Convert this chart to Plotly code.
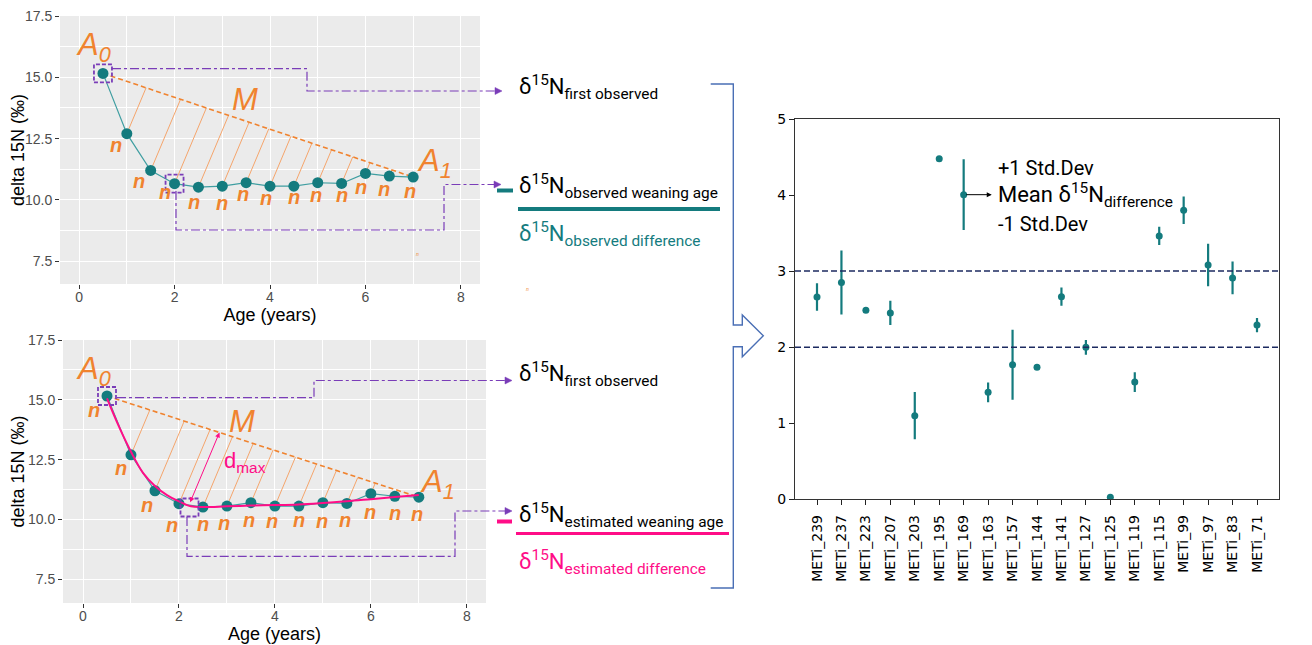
import plotly.graph_objects as go

# ---------------- data ----------------
ages = [0.5, 1.0, 1.5, 2.0, 2.5, 3.0, 3.5, 4.0, 4.5, 5.0, 5.5, 6.0, 6.5, 7.0]
d15n = [15.16, 12.70, 11.20, 10.66, 10.52, 10.56, 10.70, 10.56, 10.56, 10.70, 10.67, 11.08, 10.97, 10.93]
obs_weaning_index = 3

est_age = [0.5, 0.75, 1.0, 1.25, 1.5, 1.75, 2.0, 2.25, 2.5, 3.0, 3.5, 4.0, 4.5, 5.0, 5.5, 6.0, 6.5, 7.0]
est_d15n = [15.06, 13.88, 12.83, 11.95, 11.40, 11.02, 10.76, 10.55, 10.52, 10.55, 10.58, 10.60, 10.63, 10.69, 10.76, 10.85, 10.94, 11.02]
est_weaning_age = 2.22
est_weaning_value = 10.50

samples = ["METi_239", "METi_237", "METi_223", "METi_207", "METi_203", "METi_195", "METi_169",
           "METi_163", "METi_157", "METi_144", "METi_141", "METi_127", "METi_125", "METi_119",
           "METi_115", "METi_99", "METi_97", "METi_83", "METi_71"]
diff_mean = [2.66, 2.85, 2.485, 2.45, 1.10, 4.478, 4.005, 1.407, 1.77, 1.735, 2.664, 1.998, 0.026,
             1.542, 3.462, 3.80, 3.08, 2.91, 2.29]
diff_sd = [0.18, 0.42, 0.0, 0.16, 0.31, 0.0, 0.465, 0.13, 0.46, 0.0, 0.12, 0.097, 0.03,
           0.13, 0.12, 0.18, 0.28, 0.215, 0.095]
threshold_lines = [2.0, 3.0]

# ---------------- styles ----------------
W, H = 1312, 645          # target picture
OFF = 8                   # browser body margin
FW, FH = W - OFF, H - OFF  # figure size
TEAL = "#147b7e"
TEAL_LINE = "#3f9ea1"
ORANGE = "#f0832f"
ORANGE_LIGHT = "#f5a56c"
PURPLE = "#7a3db8"
PINK = "#ff0d87"
BLUE = "#4a6fb5"
NAVY = "#1c2a60"
ROBOTO = "Roboto"
ARIAL = "Liberation Sans, Arial"
DEJAVU = "DejaVu Sans"


def PX(x):
    return (x - OFF) / FW


def PY(y):
    return 1 - (y - OFF) / FH


TL = dict(x0=60, x1=480, y0=16, y1=284, xr=[-0.4, 8.4], yr=[6.57, 17.5])
BL = dict(x0=63, x1=486, y0=340, y1=603, xr=[-0.417, 8.4], yr=[6.51, 17.5])
RP = dict(x0=795, x1=1279, y0=119, y1=499.3, xr=[-0.9, 18.9], yr=[0, 5])

fig = go.Figure()


def scales(p):
    sx = (p["x1"] - p["x0"]) / (p["xr"][1] - p["xr"][0])
    sy = (p["y1"] - p["y0"]) / (p["yr"][1] - p["yr"][0])
    return sx, sy


def hatches(p, xs, ys, x0, y0, x1, y1):
    sx, sy = scales(p)
    k = 0.42 * sy / sx  # data dx per data dy
    m = (y1 - y0) / (x1 - x0)
    hx, hy = [], []
    for x, y in zip(xs, ys):
        cy = y0 + m * (x - x0)
        t = (cy - y) / (1 - k * m)
        hx += [x, x + k * t, None]
        hy += [y, y + t, None]
    return hx, hy, k, m


def interp(x, xs, ys):
    for i in range(len(xs) - 1):
        if xs[i] <= x <= xs[i + 1]:
            f = (x - xs[i]) / (xs[i + 1] - xs[i])
            return ys[i] + f * (ys[i + 1] - ys[i])
    return ys[-1]


shapes = []

# ---------- left panels ----------
for axn, p in (("", TL), ("2", BL)):
    xa, ya = "x" + axn, "y" + axn
    shapes.append(dict(type="rect", xref=xa + " domain", yref=ya + " domain", x0=0, x1=1, y0=0, y1=1,
                       fillcolor="#ebebeb", line=dict(width=0), layer="below"))
    hx, hy, k, m = hatches(p, ages[1:-1], d15n[1:-1], ages[0], d15n[0], ages[-1], d15n[-1])
    fig.add_trace(go.Scatter(x=hx, y=hy, mode="lines", line=dict(color=ORANGE_LIGHT, width=1),
                             xaxis=xa, yaxis=ya, hoverinfo="skip", showlegend=False))
    fig.add_trace(go.Scatter(x=[ages[0], ages[-1]], y=[d15n[0], d15n[-1]], mode="lines",
                             line=dict(color=ORANGE, width=1.6, dash="5px,3px"),
                             xaxis=xa, yaxis=ya, showlegend=False))
    fig.add_trace(go.Scatter(x=ages, y=d15n, mode="lines+markers",
                             line=dict(color=TEAL_LINE, width=1.2),
                             marker=dict(color=TEAL, size=11),
                             xaxis=xa, yaxis=ya, showlegend=False))
    if axn == "2":
        fig.add_trace(go.Scatter(x=est_age, y=est_d15n, mode="lines", line=dict(color=PINK, width=2, shape="spline"),
                                 xaxis=xa, yaxis=ya, showlegend=False))
        # d max arrow
        sy0 = interp(est_weaning_age, est_age, est_d15n) + 0.08
        cy = d15n[0] + m * (est_weaning_age - ages[0])
        t = (cy - sy0) / (1 - k * m)
        fig.add_annotation(x=est_weaning_age + k * t, y=sy0 + t, ax=est_weaning_age, ay=sy0,
                           xref=xa, yref=ya, axref=xa, ayref=ya, text="", showarrow=True,
                           arrowhead=2, startarrowhead=2, arrowside="end+start", arrowsize=1,
                           arrowwidth=1, arrowcolor=PINK)


# boxes (pixel-sized dashed squares)
def box(xref, yref, x, y, half=9):
    return dict(type="rect", xref=xref, yref=yref, xsizemode="pixel", ysizemode="pixel",
                xanchor=x, yanchor=y, x0=-half, x1=half, y0=-half, y1=half, layer="above",
                line=dict(color=PURPLE, width=1.8, dash="4px,2px"))


shapes += [
    box("x", "y", ages[0], d15n[0]),
    box("x", "y", ages[obs_weaning_index], d15n[obs_weaning_index]),
    box("x2", "y2", ages[0], d15n[0]),
    box("x2", "y2", est_weaning_age, est_weaning_value),
]


def ppath(pts):
    s = "M " + " L ".join(f"{PX(x):.5f},{PY(y):.5f}" for x, y in pts)
    return s


def connector(pts):
    shapes.append(dict(type="path", xref="paper", yref="paper", path=ppath(pts),
                       line=dict(color=PURPLE, width=1.2, dash="dashdot")))
    tx, ty = pts[-1]
    shapes.append(dict(type="path", xref="paper", yref="paper",
                       path=ppath([(tx + 7, ty), (tx, ty - 3.5), (tx, ty + 3.5)]) + " Z",
                       fillcolor=PURPLE, line=dict(color=PURPLE, width=0.5)))


connector([(112, 68.7), (307, 68.7), (307, 91), (495, 91)])
connector([(176, 191), (176, 230), (444, 230), (444, 184.5), (494, 184.5)])
connector([(117, 397.7), (314, 397.7), (314, 380.5), (505, 380.5)])
connector([(187, 517), (187, 556.3), (455, 556.3), (455, 511), (505, 511)])

# underlines and dashes
shapes.append(dict(type="line", xref="paper", yref="paper", x0=PX(518), x1=PX(720), y0=PY(209), y1=PY(209),
                   line=dict(color=TEAL, width=4)))
shapes.append(dict(type="line", xref="paper", yref="paper", x0=PX(497), x1=PX(513), y0=PY(190.5), y1=PY(190.5),
                   line=dict(color=TEAL, width=4)))
shapes.append(dict(type="line", xref="paper", yref="paper", x0=PX(516), x1=PX(729), y0=PY(533.5), y1=PY(533.5),
                   line=dict(color=PINK, width=3)))
shapes.append(dict(type="line", xref="paper", yref="paper", x0=PX(497), x1=PX(512), y0=PY(521.5), y1=PY(521.5),
                   line=dict(color=PINK, width=4)))

# bracket with chevron
shapes.append(dict(type="path", xref="paper", yref="paper",
                   path=ppath([(710.7, 84), (733.3, 84), (733.3, 325), (742.3, 325), (742.3, 315),
                               (763.3, 335.7), (742.3, 356.7), (742.3, 346.7), (733.3, 346.7),
                               (733.3, 588), (710.7, 588)]),
                   line=dict(color=BLUE, width=1.4)))

# right panel threshold lines
for v in threshold_lines:
    shapes.append(dict(type="line", xref="x3 domain", yref="y3", x0=0, x1=1, y0=v, y1=v,
                       line=dict(color=NAVY, width=1.5, dash="6px,3px")))

# ---------- right panel ----------
fig.add_trace(go.Scatter(x=list(range(len(samples))), y=diff_mean, mode="markers",
                         marker=dict(color=TEAL, size=7),
                         error_y=dict(type="data", array=diff_sd, symmetric=True, color=TEAL,
                                      thickness=2.2, width=0),
                         xaxis="x3", yaxis="y3", showlegend=False))

# ---------- annotations ----------
ann = []


def pann(x, y, text, size, color="black", family=ROBOTO, xanchor="left", yanchor="middle"):
    ann.append(dict(xref="paper", yref="paper", x=PX(x), y=PY(y), text=text, showarrow=False,
                    font=dict(size=size, color=color, family=family), xanchor=xanchor, yanchor=yanchor))


def dann(xref, yref, x, y, text, size, color=ORANGE, xshift=0, yshift=0, family=ARIAL):
    ann.append(dict(xref=xref, yref=yref, x=x, y=y, text=text, showarrow=False,
                    font=dict(size=size, color=color, family=family), xshift=xshift, yshift=yshift))


n_shift_top = [(-15, -13), (-11, -11), (-12, -11), (-10, -8), (-4, -15), (0, -17), (-3, -11), (-4, -12),
               (0, -11), (-2, -12), (0, -12), (-4, -14), (-5, -13), (-3, -14)]
n_shift_bot = [(-13, -14), (-10, -13), (-8, -14), (-7, -21), (0, -17), (-3, -17), (-2, -17), (-3, -15),
               (0, -14), (-1, -18), (-2, -17), (-1, -18), (0, -17), (-2, -17)]
for (xr, yr, shifts) in (("x", "y", n_shift_top), ("x2", "y2", n_shift_bot)):
    for (a, v), (dx, dy) in zip(zip(ages, d15n), shifts):
        dann(xr, yr, a, v, "<b><i>n</i></b>", 20, xshift=dx, yshift=dy)

# A0, M, A1 labels
dann("x", "y", 0.31, 16.24, "<i>A<sub>0</sub></i>", 31)
dann("x", "y", 3.48, 14.1, "<i>M</i>", 31)
dann("x", "y", 7.45, 11.5, "<i>A<sub>1</sub></i>", 31)
dann("x", "y", 7.08, 7.78, "<i>n</i>", 5)
dann("x2", "y2", 0.22, 16.2, "<i>A<sub>0</sub></i>", 31)
dann("x2", "y2", 3.31, 14.1, "<i>M</i>", 31)
dann("x2", "y2", 7.38, 11.5, "<i>A<sub>1</sub></i>", 31)
dann("x2", "y2", 3.38, 12.4, "d<sub>max</sub>", 22, color=PINK)
pann(527, 289, "<i>n</i>", 5, color=ORANGE, family=ARIAL, xanchor="center")

# middle texts
pann(517, 87, "δ<sup>15</sup>N<sub>first observed</sub>", 22)
pann(517, 186, "δ<sup>15</sup>N<sub>observed weaning age</sub>", 22)
pann(517, 234, "δ<sup>15</sup>N<sub>observed difference</sub>", 22, color=TEAL)
pann(517, 374, "δ<sup>15</sup>N<sub>first observed</sub>", 22)
pann(517, 515, "δ<sup>15</sup>N<sub>estimated weaning age</sub>", 22)
pann(517, 562, "δ<sup>15</sup>N<sub>estimated difference</sub>", 22, color=PINK)

# right panel legend-like annotation
pann(996, 168, "+1 Std.Dev", 20)
pann(996, 195, "Mean δ<sup>15</sup>N<sub>difference</sub>", 22)
pann(996, 224, "-1 Std.Dev", 20)
ann.append(dict(xref="x3", yref="y3", x=7.15, y=diff_mean[6], ax=-27, ay=0, text="", showarrow=True,
                arrowhead=2, arrowsize=1, arrowwidth=1, arrowcolor="black"))


# ---------- axes ----------
def left_axes(p, anchor_x, anchor_y):
    xa = dict(domain=[PX(p["x0"]), PX(p["x1"])], range=p["xr"], anchor=anchor_y,
              tickvals=[0, 2, 4, 6, 8], ticks="outside", ticklen=4, tickcolor="#333333",
              tickfont=dict(size=14, color="#4d4d4d", family=ARIAL), ticklabelstandoff=-4,
              showgrid=True, gridcolor="white", gridwidth=1.3, zeroline=False, showline=False,
              minor=dict(dtick=1, tick0=0, showgrid=True, gridcolor="white", gridwidth=0.6, ticks=""),
              automargin=False, ticklabeloverflow="allow",
              title=dict(text="Age (years)", font=dict(size=18, color="black", family=ARIAL), standoff=0))
    ya = dict(domain=[PY(p["y1"]), PY(p["y0"])], range=p["yr"], anchor=anchor_x,
              tickvals=[7.5, 10, 12.5, 15, 17.5], ticktext=["7.5", "10.0", "12.5", "15.0", "17.5"],
              ticks="outside", ticklen=4, tickcolor="#333333",
              tickfont=dict(size=14, color="#4d4d4d", family=ARIAL),
              showgrid=True, gridcolor="white", gridwidth=1.3, zeroline=False, showline=False,
              minor=dict(dtick=1.25, tick0=0, showgrid=True, gridcolor="white", gridwidth=0.6, ticks=""),
              automargin=False, ticklabeloverflow="allow",
              title=dict(text="delta 15N (‰)", font=dict(size=18, color="black", family=ARIAL), standoff=4))
    return xa, ya


xa1, ya1 = left_axes(TL, "x", "y")
xa2, ya2 = left_axes(BL, "x2", "y2")

xa3 = dict(domain=[PX(RP["x0"]), PX(RP["x1"])], range=RP["xr"], anchor="y3",
           tickvals=list(range(len(samples))), ticktext=samples, tickangle=-90,
           ticks="outside", ticklen=5, tickcolor="#222", tickwidth=1.2, automargin=False,
           tickfont=dict(size=14, color="black", family=DEJAVU), ticklabelstandoff=4,
           ticklabeloverflow="allow",
           showgrid=False, zeroline=False, showline=True, mirror=True, linecolor="#333", linewidth=1.3)
ya3 = dict(domain=[PY(RP["y1"]), PY(RP["y0"])], range=RP["yr"], anchor="x3",
           tickvals=[0, 1, 2, 3, 4, 5], ticks="outside", ticklen=5, tickcolor="#222", tickwidth=1.2,
           tickfont=dict(size=14, color="black", family=DEJAVU), automargin=False,
           ticklabeloverflow="allow",
           showgrid=False, zeroline=False, showline=True, mirror=True, linecolor="#333", linewidth=1.3)

fig.update_layout(
    width=FW, height=FH, margin=dict(l=0, r=0, t=0, b=0, autoexpand=False),
    paper_bgcolor="white", plot_bgcolor="white",
    xaxis=xa1, yaxis=ya1, xaxis2=xa2, yaxis2=ya2, xaxis3=xa3, yaxis3=ya3,
    shapes=shapes, annotations=ann, showlegend=False,
)

fig.write_html("out.html")
